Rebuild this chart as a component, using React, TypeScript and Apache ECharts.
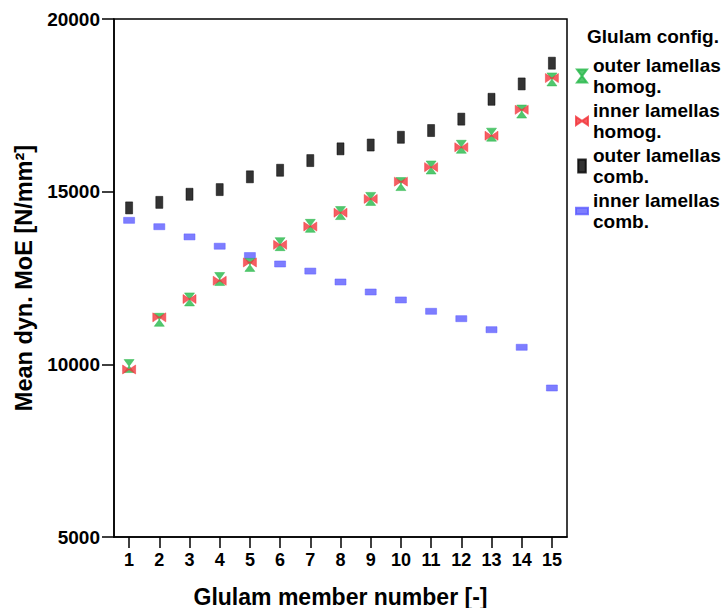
import React, { useEffect, useRef } from "react";
import * as echarts from "echarts";

const categories = ["1", "2", "3", "4", "5", "6", "7", "8", "9", "10", "11", "12", "13", "14", "15"];
const outerHomog = [9950, 11290, 11880, 12470, 12880, 13480, 14010, 14380, 14790, 15220, 15700, 16300, 16650, 17320, 18250];
const innerHomog = [9850, 11360, 11890, 12420, 12950, 13460, 13990, 14390, 14790, 15290, 15710, 16285, 16620, 17370, 18290];
const outerComb = [14530, 14690, 14925, 15060, 15430, 15620, 15900, 16240, 16350, 16575, 16770, 17100, 17675, 18120, 18720];
const innerComb = [14170, 13985, 13690, 13420, 13150, 12906, 12700, 12385, 12095, 11864, 11536, 11322, 11003, 10494, 9315];
const seriesNames = [
  "outer lamellas\nhomog.",
  "inner lamellas\nhomog.",
  "outer lamellas\ncomb.",
  "inner lamellas\ncomb.",
];

const FONT = "'Liberation Sans', Arial, sans-serif";
const GREEN = "#27b84a";
const RED = "#f2363c";
const BLUE = "#5c5cff";
const BLACK = "#000000";

const hourglass = "path://M0,0L10,0L5.6,6L5.6,7L10,13L0,13L4.4,7L4.4,6Z";
const bowtie = "path://M0,0L6,4L7,4L13,0L13,9L7,5L6,5L0,9Z";
const tallRect = "path://M0,0L7,0L7,12L0,12Z";
const wideRect = "path://M0,0L11,0L11,6L0,6Z";

export default function App() {
  const ref = useRef<HTMLDivElement>(null);
  useEffect(() => {
    if (!ref.current) return;
    const chart = echarts.init(ref.current, null, { renderer: "svg" });
    chart.setOption({
      animation: false,
      backgroundColor: "#ffffff",
      textStyle: { fontFamily: FONT },
      title: {
        text: "Glulam config.",
        left: 587,
        top: 27,
        padding: 0,
        textStyle: { fontFamily: FONT, fontWeight: "bold", fontSize: 19, color: "#000" },
      },
      legend: {
        orient: "vertical",
        left: 575,
        top: 55,
        padding: 0,
        itemWidth: 12,
        itemHeight: 13,
        itemGap: 3,
        symbolKeepAspect: true,
        textStyle: { fontFamily: FONT, fontWeight: "bold", fontSize: 19, lineHeight: 21, color: "#000" },
        data: [
          { name: seriesNames[0], icon: hourglass },
          { name: seriesNames[1], icon: bowtie },
          { name: seriesNames[2], icon: tallRect },
          { name: seriesNames[3], icon: wideRect },
        ],
      },
      grid: {
        left: 114,
        right: 157,
        top: 19,
        bottom: 71,
        show: true,
        borderColor: "#000",
        borderWidth: 1.5,
        containLabel: false,
        outerBoundsMode: "none",
      },
      xAxis: {
        type: "category",
        data: categories,
        boundaryGap: true,
        name: "Glulam member number [-]",
        nameLocation: "middle",
        nameGap: 48,
        nameTextStyle: { fontFamily: FONT, fontWeight: "bold", fontSize: 23, color: "#000" },
        axisLine: { show: true, lineStyle: { color: "#000", width: 1.5 } },
        axisTick: { show: true, alignWithLabel: true, length: 11, lineStyle: { color: "#000", width: 1.5 } },
        axisLabel: { margin: 14, fontFamily: FONT, fontWeight: "bold", fontSize: 18, color: "#000", interval: 0 },
        splitLine: { show: false },
      },
      yAxis: {
        type: "value",
        min: 5000,
        max: 20000,
        interval: 5000,
        name: "Mean dyn. MoE [N/mm²]",
        nameLocation: "middle",
        nameGap: 75,
        nameTextStyle: { fontFamily: FONT, fontWeight: "bold", fontSize: 23.5, color: "#000" },
        axisLine: { show: true, lineStyle: { color: "#000", width: 1.5 } },
        axisTick: { show: true, length: 12, lineStyle: { color: "#000", width: 1.5 } },
        axisLabel: {
          margin: 14,
          fontFamily: FONT,
          fontWeight: "bold",
          fontSize: 19,
          color: "#000",
          formatter: (v: number) => String(v),
        },
        splitLine: { show: false },
      },
      series: [
        {
          name: seriesNames[0],
          type: "scatter",
          data: outerHomog,
          symbol: hourglass,
          symbolSize: [10, 13],
          itemStyle: { color: GREEN, borderColor: GREEN, borderWidth: 0.6 },
          z: 3,
        },
        {
          name: seriesNames[1],
          type: "scatter",
          data: innerHomog,
          symbol: bowtie,
          symbolSize: [13, 9],
          itemStyle: { color: RED, borderColor: RED, borderWidth: 0.6 },
          z: 4,
        },
        {
          name: seriesNames[2],
          type: "scatter",
          data: outerComb,
          symbol: "rect",
          symbolSize: [7, 12],
          itemStyle: { color: BLACK, borderColor: BLACK, borderWidth: 0.6 },
          z: 2,
        },
        {
          name: seriesNames[3],
          type: "scatter",
          data: innerComb,
          symbol: "rect",
          symbolSize: [11, 6],
          itemStyle: { color: BLUE, borderColor: BLUE, borderWidth: 0.6 },
          z: 1,
        },
      ],
    });
    return () => chart.dispose();
  }, []);
  return <div ref={ref} style={{ width: 724, height: 608, position: "absolute", left: 0, top: 0 }} />;
}
